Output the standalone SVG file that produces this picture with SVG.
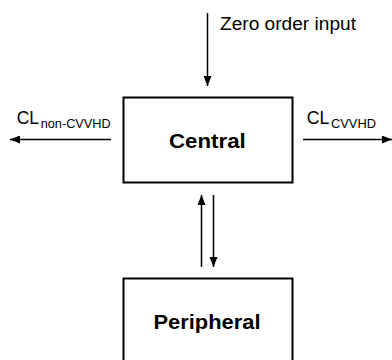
<svg xmlns="http://www.w3.org/2000/svg" width="392" height="360" viewBox="0 0 392 360">
<defs>
<marker id="ah" viewBox="0 0 10 8" refX="10" refY="4" markerWidth="10" markerHeight="8" markerUnits="userSpaceOnUse" orient="auto">
<path d="M0,0 L10,4 L0,8 Z" fill="#000"/>
</marker>
<style>
.box{fill:#fff;stroke:#000;stroke-width:2}
.lbl{font-family:"Liberation Sans",Arial,sans-serif;font-size:21px;font-weight:bold;fill:#000}
.t{font-family:"Liberation Sans",Arial,sans-serif;font-size:17.5px;fill:#000}
.sub{font-family:"Liberation Sans",Arial,sans-serif;font-size:12.5px;fill:#000}
.ln{stroke:#000;stroke-width:1.5;fill:none;marker-end:url(#ah)}
</style>
</defs>
<rect width="392" height="360" fill="#fff"/>
<g id="central">
<rect class="box" x="123.5" y="97.5" width="169" height="85"/>
<text class="lbl" x="169" y="148" textLength="76.7" lengthAdjust="spacingAndGlyphs">Central</text>
</g>
<g id="peripheral">
<rect class="box" x="123.5" y="278.5" width="169" height="90"/>
<text class="lbl" x="153.5" y="328.5" textLength="107" lengthAdjust="spacingAndGlyphs">Peripheral</text>
</g>
<g id="connectors">
<line class="ln" x1="207.5" y1="13" x2="207.5" y2="86"/>
<line class="ln" x1="111" y1="139.5" x2="10" y2="139.5"/>
<line class="ln" x1="303" y1="139.5" x2="392" y2="139.5"/>
<line class="ln" x1="201.5" y1="267" x2="201.5" y2="195"/>
<line class="ln" x1="213.5" y1="195" x2="213.5" y2="267"/>
</g>
<g id="labels">
<text class="t" x="220" y="30" textLength="136" lengthAdjust="spacingAndGlyphs">Zero order input</text>
<text class="t" x="16.7" y="124" textLength="22.3" lengthAdjust="spacingAndGlyphs">CL</text>
<text class="sub" x="40.7" y="128.3" textLength="70" lengthAdjust="spacingAndGlyphs">non-CVVHD</text>
<text class="t" x="306.7" y="124" textLength="22.6" lengthAdjust="spacingAndGlyphs">CL</text>
<text class="sub" x="331" y="128.3" textLength="45" lengthAdjust="spacingAndGlyphs">CVVHD</text>
</g>
</svg>
